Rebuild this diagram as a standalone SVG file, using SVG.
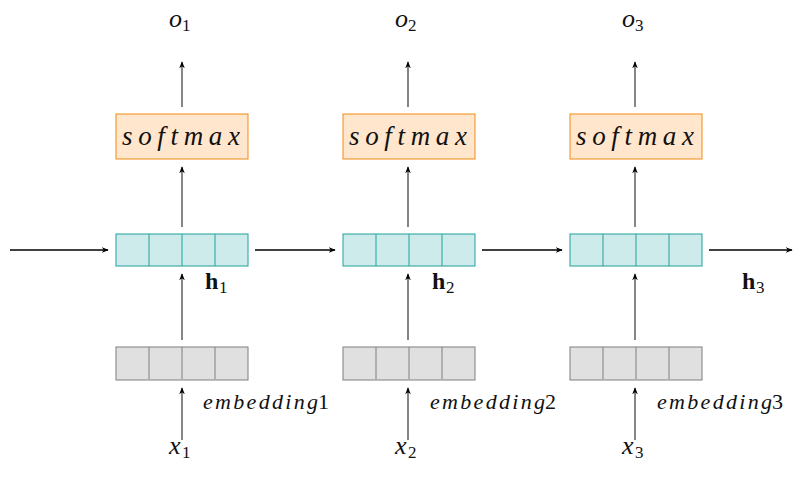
<svg xmlns="http://www.w3.org/2000/svg" width="798" height="487" viewBox="0 0 798 487">
<style>
.hid{fill:#cdebea;stroke:#21a19c;stroke-width:1}
.emb{fill:#e0e0e0;stroke:#7f7f7f;stroke-width:1}
.sm{fill:#ffe6cc;stroke:#f28a12;stroke-width:1}
.v{stroke:#444;stroke-width:1.3;fill:none;marker-end:url(#ah)}
.h{stroke:#000;stroke-width:1.3;fill:none;marker-end:url(#ah)}
.mi{font-style:italic}
.bf{font-weight:bold}
</style>
<defs>
<marker id="ah" viewBox="0 0 10 10" refX="9" refY="5" markerWidth="7" markerHeight="7" orient="auto" markerUnits="userSpaceOnUse">
<path d="M0,1 L10,5 L0,9 L3,5 Z" fill="#000"/>
</marker>
<g id="cells4">
<line x1="33" y1="0" x2="33" y2="32"/><line x1="66" y1="0" x2="66" y2="32"/><line x1="99" y1="0" x2="99" y2="32"/>
</g>
</defs>
<g id="connectors">
<line class="h" x1="10" y1="250" x2="108" y2="250"/>
<line class="h" x1="255" y1="250" x2="335" y2="250"/>
<line class="h" x1="482" y1="250" x2="562" y2="250"/>
<line class="h" x1="709" y1="250" x2="792" y2="250"/>
<line class="v" x1="182" y1="107" x2="182" y2="62"/>
<line class="v" x1="182" y1="227" x2="182" y2="167"/>
<line class="v" x1="182" y1="340" x2="182" y2="274"/>
<line class="v" x1="182" y1="440" x2="182" y2="388"/>
<line class="v" x1="408" y1="107" x2="408" y2="62"/>
<line class="v" x1="408" y1="227" x2="408" y2="167"/>
<line class="v" x1="408" y1="340" x2="408" y2="274"/>
<line class="v" x1="408" y1="440" x2="408" y2="388"/>
<line class="v" x1="635" y1="107" x2="635" y2="62"/>
<line class="v" x1="635" y1="227" x2="635" y2="167"/>
<line class="v" x1="635" y1="340" x2="635" y2="274"/>
<line class="v" x1="635" y1="440" x2="635" y2="388"/>
</g>
<g font-family="Liberation Serif, serif" fill="#111">
<g id="col1">
<g id="o1"><text class="mi" x="169" y="27" font-size="26">o</text><text x="182" y="31" font-size="17">1</text></g>
<g id="softmax1"><rect class="sm" x="116" y="114" width="132" height="45"/><text class="mi" x="122" y="145" font-size="27" textLength="118" lengthAdjust="spacing">softmax</text></g>
<g id="hidden1"><rect class="hid" x="116" y="234" width="132" height="32"/><g transform="translate(116,234)" stroke="#21a19c"><use href="#cells4"/></g></g>
<g id="h1label"><text class="bf" x="205" y="289" font-size="24">h</text><text x="219" y="293" font-size="17">1</text></g>
<g id="emb1"><rect class="emb" x="116" y="347" width="132" height="33"/><g transform="translate(116,347)" stroke="#7f7f7f"><use href="#cells4"/></g></g>
<g id="emb1label"><text class="mi" x="203" y="409" font-size="22" textLength="115" lengthAdjust="spacing">embedding</text><text x="318" y="409" font-size="22">1</text></g>
<g id="x1"><text class="mi" x="169" y="454" font-size="26">x</text><text x="182" y="458" font-size="17">1</text></g>
</g>
<g id="col2">
<g id="o2"><text class="mi" x="395" y="27" font-size="26">o</text><text x="408" y="31" font-size="17">2</text></g>
<g id="softmax2"><rect class="sm" x="343" y="114" width="132" height="45"/><text class="mi" x="349" y="145" font-size="27" textLength="118" lengthAdjust="spacing">softmax</text></g>
<g id="hidden2"><rect class="hid" x="343" y="234" width="132" height="32"/><g transform="translate(343,234)" stroke="#21a19c"><use href="#cells4"/></g></g>
<g id="h2label"><text class="bf" x="432" y="289" font-size="24">h</text><text x="446" y="293" font-size="17">2</text></g>
<g id="emb2"><rect class="emb" x="343" y="347" width="132" height="33"/><g transform="translate(343,347)" stroke="#7f7f7f"><use href="#cells4"/></g></g>
<g id="emb2label"><text class="mi" x="430" y="409" font-size="22" textLength="115" lengthAdjust="spacing">embedding</text><text x="545" y="409" font-size="22">2</text></g>
<g id="x2"><text class="mi" x="395" y="454" font-size="26">x</text><text x="408" y="458" font-size="17">2</text></g>
</g>
<g id="col3">
<g id="o3"><text class="mi" x="622" y="27" font-size="26">o</text><text x="635" y="31" font-size="17">3</text></g>
<g id="softmax3"><rect class="sm" x="570" y="114" width="132" height="45"/><text class="mi" x="576" y="145" font-size="27" textLength="118" lengthAdjust="spacing">softmax</text></g>
<g id="hidden3"><rect class="hid" x="570" y="234" width="132" height="32"/><g transform="translate(570,234)" stroke="#21a19c"><use href="#cells4"/></g></g>
<g id="h3label"><text class="bf" x="742" y="289" font-size="24">h</text><text x="756" y="293" font-size="17">3</text></g>
<g id="emb3"><rect class="emb" x="570" y="347" width="132" height="33"/><g transform="translate(570,347)" stroke="#7f7f7f"><use href="#cells4"/></g></g>
<g id="emb3label"><text class="mi" x="657" y="409" font-size="22" textLength="115" lengthAdjust="spacing">embedding</text><text x="772" y="409" font-size="22">3</text></g>
<g id="x3"><text class="mi" x="622" y="454" font-size="26">x</text><text x="635" y="458" font-size="17">3</text></g>
</g>
</g>
</svg>
